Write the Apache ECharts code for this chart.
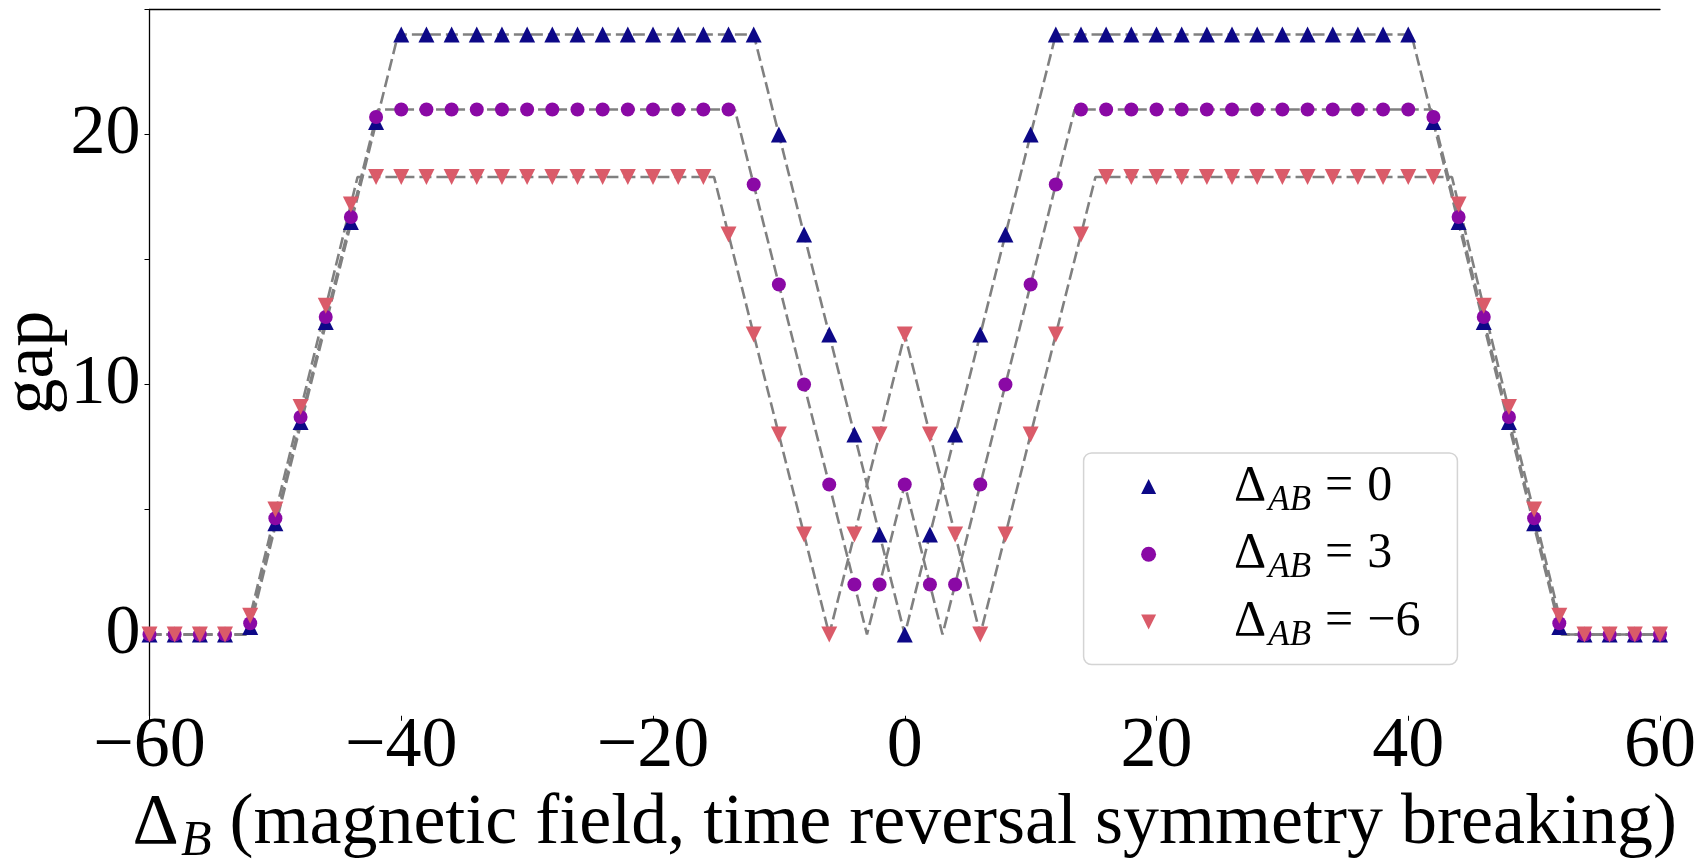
<!DOCTYPE html>
<html>
<head>
<meta charset="utf-8">
<script src="https://cdn.jsdelivr.net/npm/echarts@6/dist/echarts.min.js"></script>
<style>
html,body{margin:0;padding:0;background:#fff;overflow:hidden}
#chart{width:1699px;height:866px}
</style>
</head>
<body>
<div id="chart"></div>
<script>
// ---- data ----
const xValues = [-60,-58,-56,-54,-52,-50,-48,-46,-44,-42,-40,-38,-36,-34,-32,-30,-28,-26,-24,-22,-20,-18,-16,-14,-12,-10,-8,-6,-4,-2,0,2,4,6,8,10,12,14,16,18,20,22,24,26,28,30,32,34,36,38,40,42,44,46,48,50,52,54,56,58,60];

const gapAB0 = [0,0,0,0,0.3,4.45,8.5,12.5,16.5,20.5,24,24,24,24,24,24,24,24,24,24,24,24,24,24,24,20,16,12,8,4,0,4,8,12,16,20,24,24,24,24,24,24,24,24,24,24,24,24,24,24,24,20.5,16.5,12.5,8.5,4.45,0.3,0,0,0,0];

const gapAB3 = [0,0,0,0,0.45,4.65,8.7,12.7,16.7,20.7,21,21,21,21,21,21,21,21,21,21,21,21,21,21,18,14,10,6,2,2,6,2,2,6,10,14,18,21,21,21,21,21,21,21,21,21,21,21,21,21,21,20.7,16.7,12.7,8.7,4.65,0.45,0,0,0,0];

const gapABm6 = [0,0,0,0,0.75,5.0,9.1,13.15,17.2,18.3,18.3,18.3,18.3,18.3,18.3,18.3,18.3,18.3,18.3,18.3,18.3,18.3,18.3,16,12,8,4,0,4,8,12,8,4,0,4,8,12,16,18.3,18.3,18.3,18.3,18.3,18.3,18.3,18.3,18.3,18.3,18.3,18.3,18.3,18.3,17.2,13.15,9.1,5.0,0.75,0,0,0,0];

// dashed guide curves: breakpoints
const lineAB0X = [-60,-52.15,-40.25,-12,0,12,40.25,52.15,60];
const lineAB0Y = [0,0,24,24,0,24,24,0,0];
const lineAB3X = [-60,-52.22,-41.85,-13.5,-3,0,3,13.5,41.85,52.22,60];
const lineAB3Y = [0,0,21,21,0,6,0,21,21,0,0];
const lineABm6X = [-60,-52.36,-43.47,-15.15,-6,0,6,15.15,43.47,52.36,60];
const lineABm6Y = [0,0,18.3,18.3,0,12,0,18.3,18.3,0,0];

const xTicks = [-60,-40,-20,0,20,40,60];
const yTicks = [0,5,10,15,20,25];
const yTickLabels = [0,10,20];

const seriesNames = ['AB0','AB3','ABm6'];
const legendLabels = {
  AB0: '{d|Δ}{s|AB}{e|=}{t|0}',
  AB3: '{d|Δ}{s|AB}{e|=}{t|3}',
  ABm6: '{d|Δ}{s|AB}{e|=}{t|\u22126}'
};
const xTitle = '{d|Δ}{s|B}{t| (magnetic field, time reversal symmetry breaking)}';
const yTitle = 'gap';

// ---- styles ----
const FONT = '"Liberation Serif", "Times New Roman", serif';
const BLUE = '#0d0887', PURPLE = '#8a09a5', RED = '#da5b69', GREY = '#808080';
const DOWN_TRI = 'path://M0,0L10,0L5,10Z';

function pairs(xs, ys) { return xs.map((x, i) => [x, ys[i]]); }
function guide(name, xs, ys) {
  return {
    name: name, type: 'line', data: pairs(xs, ys), showSymbol: false, symbol: 'none',
    lineStyle: { color: GREY, width: 2.6, type: [12, 5] }, z: 2, silent: true,
    emphasis: { disabled: true }
  };
}

const chart = echarts.init(document.getElementById('chart'), null, { renderer: 'canvas' });
chart.setOption({
  animation: false,
  backgroundColor: '#fff',
  grid: { left: 149.5, right: 39, top: 9.5, bottom: 150.25, containLabel: false, outerBoundsMode: 'none' },
  xAxis: [{
    type: 'value', min: xTicks[0], max: xTicks[xTicks.length - 1], interval: 20, position: 'bottom',
    axisLine: { show: false, onZero: false },
    axisTick: { show: true, length: 5, lineStyle: { color: '#000', width: 1 } },
    splitLine: { show: false },
    axisLabel: {
      margin: -5, fontFamily: FONT, fontSize: 72, color: '#000',
      formatter: v => v < 0 ? '\u2212' + Math.abs(v) : String(v)
    },
    name: xTitle, nameLocation: 'middle', nameGap: 53,
    nameTextStyle: {
      fontFamily: FONT, fontSize: 72, color: '#000',
      rich: {
        d: { fontFamily: FONT, fontSize: 72, color: '#000' },
        s: { fontFamily: FONT, fontSize: 50, fontStyle: 'italic', color: '#000', padding: [36, 0, 0, 2] },
        t: { fontFamily: FONT, fontSize: 72, color: '#000' }
      }
    }
  }, {
    type: 'value', min: -60, max: 60, position: 'top',
    axisLine: { show: true, onZero: false, lineStyle: { color: '#000', width: 1.3 } },
    axisTick: { show: false }, axisLabel: { show: false }, splitLine: { show: false }
  }],
  yAxis: {
    type: 'value', min: -3.25, max: 25,
    axisLine: { show: true, onZero: false, lineStyle: { color: '#000', width: 1.3 } },
    axisTick: { show: true, length: 5, customValues: yTicks, lineStyle: { color: '#000', width: 1 } },
    axisLabel: { customValues: yTickLabels, margin: 9, fontFamily: FONT, fontSize: 70, color: '#000' },
    splitLine: { show: false },
    name: yTitle, nameLocation: 'middle', nameGap: 80, nameMoveOverlap: false,
    nameTextStyle: { fontFamily: FONT, fontSize: 72, color: '#000' }
  },
  legend: {
    orient: 'vertical', left: 1083.6, top: 453,
    data: seriesNames, selectedMode: false,
    itemWidth: 15, itemHeight: 15, itemGap: 11.3,
    padding: [8.4, 37, 11, 57.5],
    backgroundColor: 'rgba(255,255,255,0.8)', borderColor: '#d4d4d4', borderWidth: 1.5, borderRadius: 8,
    formatter: name => legendLabels[name],
    textStyle: {
      fontFamily: FONT, fontSize: 50, color: '#000',
      rich: {
        d: { fontFamily: FONT, fontSize: 50, color: '#000', padding: [0, 0, 0, 73] },
        s: { fontFamily: FONT, fontSize: 35, fontStyle: 'italic', color: '#000', padding: [28, 0, 0, 2] },
        e: { fontFamily: FONT, fontSize: 50, color: '#000', padding: [0, 14, 0, 14] },
        t: { fontFamily: FONT, fontSize: 50, color: '#000' }
      }
    }
  },
  series: [
    guide('lineAB0', lineAB0X, lineAB0Y),
    guide('lineAB3', lineAB3X, lineAB3Y),
    guide('lineABm6', lineABm6X, lineABm6Y),
    { name: 'AB0', type: 'scatter', data: pairs(xValues, gapAB0), symbol: 'triangle', symbolSize: 16,
      itemStyle: { color: BLUE, opacity: 1 }, z: 5, emphasis: { disabled: true } },
    { name: 'AB3', type: 'scatter', data: pairs(xValues, gapAB3), symbol: 'circle', symbolSize: 14,
      itemStyle: { color: PURPLE, opacity: 1 }, z: 6, emphasis: { disabled: true } },
    { name: 'ABm6', type: 'scatter', data: pairs(xValues, gapABm6), symbol: DOWN_TRI, symbolSize: 16,
      itemStyle: { color: RED, opacity: 1 }, z: 7, emphasis: { disabled: true } }
  ]
});
</script>
</body>
</html>
